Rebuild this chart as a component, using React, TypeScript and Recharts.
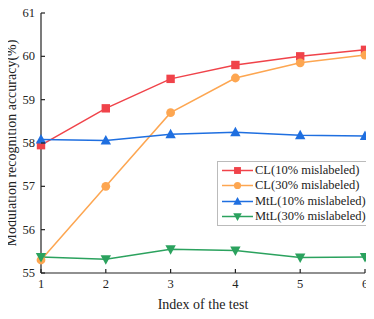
import { LineChart, Line, XAxis, YAxis } from 'recharts';

const tests = [1, 2, 3, 4, 5, 6];
const cl10 = [57.95, 58.8, 59.48, 59.8, 60.0, 60.15];
const cl30 = [55.3, 57.0, 58.7, 59.5, 59.85, 60.03];
const mtl10 = [58.08, 58.06, 58.2, 58.25, 58.18, 58.16];
const mtl30 = [55.37, 55.32, 55.55, 55.52, 55.36, 55.37];
const yTicks = [55, 56, 57, 58, 59, 60, 61];

const data = tests.map((t, i) => ({
  test: t,
  cl10: cl10[i],
  cl30: cl30[i],
  mtl10: mtl10[i],
  mtl30: mtl30[i],
}));

const series = [
  { key: 'cl10', name: 'CL(10% mislabeled)', color: '#f0434a', shape: 'square' },
  { key: 'cl30', name: 'CL(30% mislabeled)', color: '#fda651', shape: 'circle' },
  { key: 'mtl10', name: 'MtL(10% mislabeled)', color: '#1f6fe0', shape: 'up' },
  { key: 'mtl30', name: 'MtL(30% mislabeled)', color: '#2ba25e', shape: 'down' },
];

const FONT = '"Liberation Serif", "Times New Roman", serif';

function Marker({ cx, cy, shape, color, s = 1 }: any) {
  if (cx == null || cy == null) return null;
  if (shape === 'square') return <rect x={cx - 4.2 * s} y={cy - 4.2 * s} width={8.4 * s} height={8.4 * s} fill={color} />;
  if (shape === 'circle') return <circle cx={cx} cy={cy} r={4.4 * s} fill={color} />;
  if (shape === 'up')
    return (
      <polygon
        points={`${cx},${cy - 5.5 * s} ${cx - 5.2 * s},${cy + 4 * s} ${cx + 5.2 * s},${cy + 4 * s}`}
        fill={color}
      />
    );
  return (
    <polygon
      points={`${cx},${cy + 5.5 * s} ${cx - 5.2 * s},${cy - 4 * s} ${cx + 5.2 * s},${cy - 4 * s}`}
      fill={color}
    />
  );
}

function YTick({ x, y, payload }: any) {
  const ax = x + 6;
  return (
    <g>
      <line x1={ax} y1={y} x2={ax + 4} y2={y} stroke="#222" strokeWidth={1.2} />
      <text x={x} y={y} dy={4} textAnchor="end" fontSize={12.5} fontFamily={FONT} fill="#222">
        {payload.value}
      </text>
    </g>
  );
}

function XTick({ x, y, payload }: any) {
  const ay = y - 5;
  return (
    <g>
      <line x1={x} y1={ay} x2={x} y2={ay - 4} stroke="#222" strokeWidth={1.2} />
      <text x={x} y={y} dy={10} textAnchor="middle" fontSize={12.5} fontFamily={FONT} fill="#222">
        {payload.value}
      </text>
    </g>
  );
}

function LegendBox() {
  return (
    <div
      style={{
        position: 'absolute',
        left: 217,
        top: 161,
        width: 145,
        height: 62,
        border: '1px solid #bbb',
        background: '#fff',
        padding: '1px 0 0 4px',
        fontFamily: FONT,
        fontSize: 12.5,
        color: '#222',
        lineHeight: '15.3px',
        boxSizing: 'content-box',
      }}
    >
      {series.map((s) => (
        <div key={s.key} style={{ display: 'flex', alignItems: 'center', whiteSpace: 'nowrap', height: 15.3 }}>
          <svg width={31} height={15} style={{ marginRight: 2 }}>
            <line x1={0} y1={7.5} x2={31} y2={7.5} stroke={s.color} strokeWidth={1.5} />
            <Marker cx={15.5} cy={7.5} shape={s.shape} color={s.color} s={0.82} />
          </svg>
          <span>{s.name}</span>
        </div>
      ))}
    </div>
  );
}

export default function App() {
  return (
    <div style={{ margin: -8, width: 374, height: 319, background: '#fff', position: 'relative' }}>
      <LineChart width={374} height={319} data={data} margin={{ top: 13, right: 9, bottom: 16, left: 6 }}>
        <XAxis
          dataKey="test"
          type="number"
          domain={[1, 6]}
          ticks={tests}
          height={30}
          tickLine={false}
          tickSize={0}
          tickMargin={5}
          tick={<XTick />}
          stroke="#222"
          strokeWidth={1.2}
          label={() => (
            <text x={203} y={309} textAnchor="middle" fontSize={14} fontFamily={FONT} fill="#222">
              Index of the test
            </text>
          )}
        />
        <YAxis
          type="number"
          domain={[55, 61]}
          ticks={yTicks}
          width={35}
          tickLine={false}
          tickSize={0}
          tickMargin={6}
          tick={<YTick />}
          stroke="#222"
          strokeWidth={1.2}
          label={() => (
            <text
              x={16}
              y={143}
              transform="rotate(-90 16 143)"
              textAnchor="middle"
              fontSize={14}
              fontFamily={FONT}
              fill="#222"
            >
              Modulation recognition accuracy(%)
            </text>
          )}
        />
        {series.map((s) => (
          <Line
            key={s.key}
            dataKey={s.key}
            name={s.name}
            stroke={s.color}
            strokeWidth={1.5}
            isAnimationActive={false}
            dot={(p: any) => <Marker key={p.index} cx={p.cx} cy={p.cy} shape={s.shape} color={s.color} />}
            activeDot={false}
          />
        ))}
      </LineChart>
      <LegendBox />
    </div>
  );
}
